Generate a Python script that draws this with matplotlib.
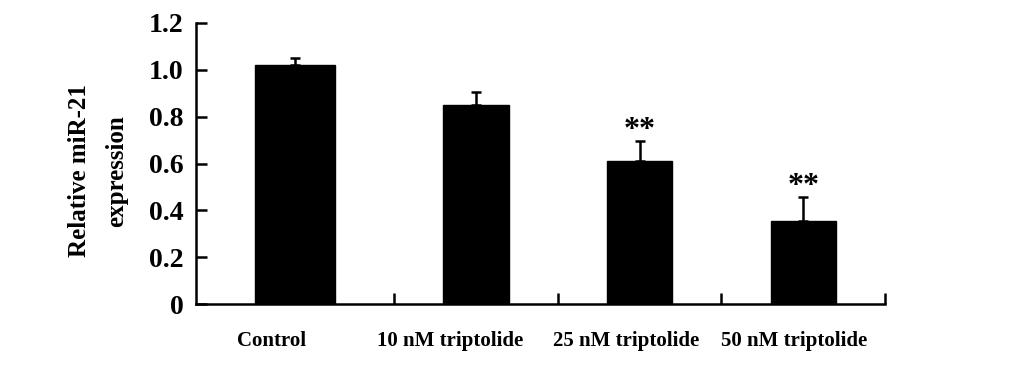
import matplotlib
matplotlib.use("Agg")
import matplotlib.pyplot as plt
import numpy as np

categories = ["Control", "10 nM triptolide", "25 nM triptolide", "50 nM triptolide"]
values = [1.02, 0.85, 0.61, 0.355]
errors = [0.03, 0.055, 0.085, 0.10]
stars = ["", "", "**", "**"]
yticks = [0, 0.2, 0.4, 0.6, 0.8, 1.0, 1.2]
yticklabels = ["0", "0.2", "0.4", "0.6", "0.8", "1.0", "1.2"]

plt.rcParams['font.family'] = ['Liberation Serif', 'DejaVu Serif']
plt.rcParams['font.weight'] = 'bold'

fig = plt.figure(figsize=(10.33, 3.70), dpi=100)
ax = fig.add_axes([196/1033, 1-304/370, (885-196)/1033, (304-23)/370])

pos = np.array([-0.11, 1.0, 2.0, 3.0])
widths = [0.49, 0.40, 0.40, 0.40]
ax.bar(pos, values, width=widths, color='black', edgecolor='black', zorder=2)
ax.errorbar(pos, values, yerr=[np.zeros(4), errors], fmt='none', ecolor='black',
            elinewidth=1.8, capsize=3.8, capthick=1.8, zorder=3)
for x, v, e, s in zip(pos, values, errors, stars):
    if s:
        ax.text(x, v + e + 0.045, s, ha='center', va='center', fontsize=23,
                fontweight='bold')

ax.set_xlim(-0.713, 3.5)
ax.set_ylim(0, 1.2)
ax.set_yticks(yticks)
ax.set_yticklabels(yticklabels, fontsize=20, fontweight='bold')
ax.set_xticks([0.5, 1.5, 2.5, 3.5])
ax.set_xticklabels([])
ax.tick_params(axis='both', direction='in', length=8, width=1.8)
ax.tick_params(axis='y', pad=9)
for side in ['top', 'right']:
    ax.spines[side].set_visible(False)
for side in ['left', 'bottom']:
    ax.spines[side].set_linewidth(1.8)

label_x = [-0.254, 0.84, 1.92, 2.945]
for lx, lab in zip(label_x, categories):
    ax.text(lx, -0.16, lab, ha='center', va='center', fontsize=15,
            fontweight='bold', transform=ax.transData, clip_on=False)

fig.text(80/1033, 1-171/370, "Relative miR-21", rotation=90, ha='center', va='center',
         fontsize=18, fontweight='bold')
fig.text(117/1033, 1-171/370, "expression", rotation=90, ha='center', va='center',
         fontsize=18, fontweight='bold')

fig.savefig("out.png", dpi=100)
